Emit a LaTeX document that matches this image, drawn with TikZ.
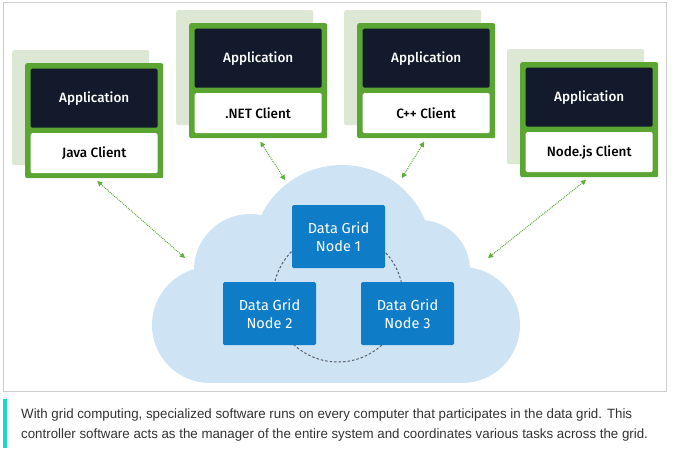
\documentclass[tikz,border=0pt]{standalone}
\usepackage{fontspec}
\setmainfont{Fira Sans}
\newfontfamily\boxfont{Fira Sans Medium}
\newfontfamily\capfont[FakeStretch=0.985]{Liberation Sans}
\usetikzlibrary{arrows.meta,positioning,calc}

\definecolor{clientgreen}{HTML}{5BA532}
\definecolor{shadowgreen}{HTML}{DCE8D3}
\definecolor{appnavy}{HTML}{121A2B}
\definecolor{arrowgreen}{HTML}{5FAE3A}
\definecolor{gridblue}{HTML}{0F7CC8}
\definecolor{cloudblue}{HTML}{CEE3F4}
\definecolor{ringgray}{HTML}{56606B}
\definecolor{framegray}{HTML}{CCCCCC}
\definecolor{barcyan}{HTML}{1ED6C8}
\definecolor{captext}{HTML}{333333}

\begin{document}
\begin{tikzpicture}[x=1pt,y=-1pt]
\tikzset{shadowbox/.style = {fill=shadowgreen, rounded corners=2pt, minimum width=137pt, minimum height=115pt, anchor=north west, inner sep=0pt},
         clientbox/.style = {fill=clientgreen, rounded corners=2pt, minimum width=138pt, minimum height=115pt, anchor=north west, inner sep=0pt},
         appbox/.style = {fill=appnavy, text=white, rounded corners=1.5pt, minimum width=127pt, minimum height=59pt, anchor=north west, inner sep=0pt, font=\boxfont\fontsize{13.5}{16}\selectfont},
         libbox/.style = {fill=white, text=black, rounded corners=1.5pt, minimum width=127pt, minimum height=40pt, anchor=north west, inner sep=0pt, font=\boxfont\fontsize{13.5}{16}\selectfont},
         gridnode/.style = {fill=gridblue, text=white, rounded corners=1.5pt, minimum width=93pt, minimum height=63pt, inner sep=0pt, align=center, font=\fontsize{14.5}{18}\selectfont},
         link/.style = {arrowgreen, line width=1pt, densely dotted, arrows={Triangle[length=5pt,width=5pt]-Triangle[length=5pt,width=5pt]}, shorten <=4pt},
         ring/.style = {ringgray, line width=1pt, dash pattern=on 2.5pt off 2pt},
         captext/.style = {text=captext, anchor=base west, inner sep=0pt, font=\capfont\fontsize{13.5}{16}\selectfont}}
\useasboundingbox (0,0) rectangle (684,456);
\fill[white] (0,0) rectangle (684,456);
\draw[framegray, line width=0.8pt] (3,2) rectangle (666,391);

% cloud
\fill[cloudblue] (210,325) circle (58);
\fill[cloudblue] (462,325) circle (58);
\fill[cloudblue] (342,255) circle (90);
\fill[cloudblue] (250,270) circle (56);
\fill[cloudblue] (420,270) circle (50);
\fill[cloudblue] (210,300) rectangle (462,383);

% clients
\foreach \n/\x/\y/\lib in {java/25/63/Java Client, net/189/23/.NET Client, cpp/357/23/C++ Client, njs/520/62/Node.js Client}{
  \node[shadowbox] (\n-shadow) at (\x-13,\y-13) {};
  \node[clientbox] (\n) at (\x,\y) {};
  \node[appbox] (\n-app) at (\x+5.5,\y+5.5) {Application};
  \node[libbox] (\n-lib) at (\x+5.5,\y+70) {\lib};
}

% data grid
\draw[ring] (338,297) circle (65);
\node[gridnode] (dg1) at (338.5,236.5) {Data Grid\\Node 1};
\node[gridnode] (dg2) at (269.5,313.5) {Data Grid\\Node 2};
\node[gridnode] (dg3) at (407.5,313.5) {Data Grid\\Node 3};

\coordinate (cj) at (185,258);
\coordinate (cn) at (285,180);
\coordinate (cc) at (402,178);
\coordinate (cs) at (488,258);
\draw[link] (java.south) -- (cj);
\draw[link] (net.south) -- (cn);
\draw[link] (cpp.south) -- (cc);
\draw[link] (njs.south) -- (cs);

% caption
\fill[barcyan] (3,399) rectangle (7,448);
\node[captext] (cap1) at (21,418) {With grid computing, specialized software runs on every computer that participates in the data grid. This};
\node[captext] (cap2) at (21,438) {controller software acts as the manager of the entire system and coordinates various tasks across the grid.};
\end{tikzpicture}
\end{document}
